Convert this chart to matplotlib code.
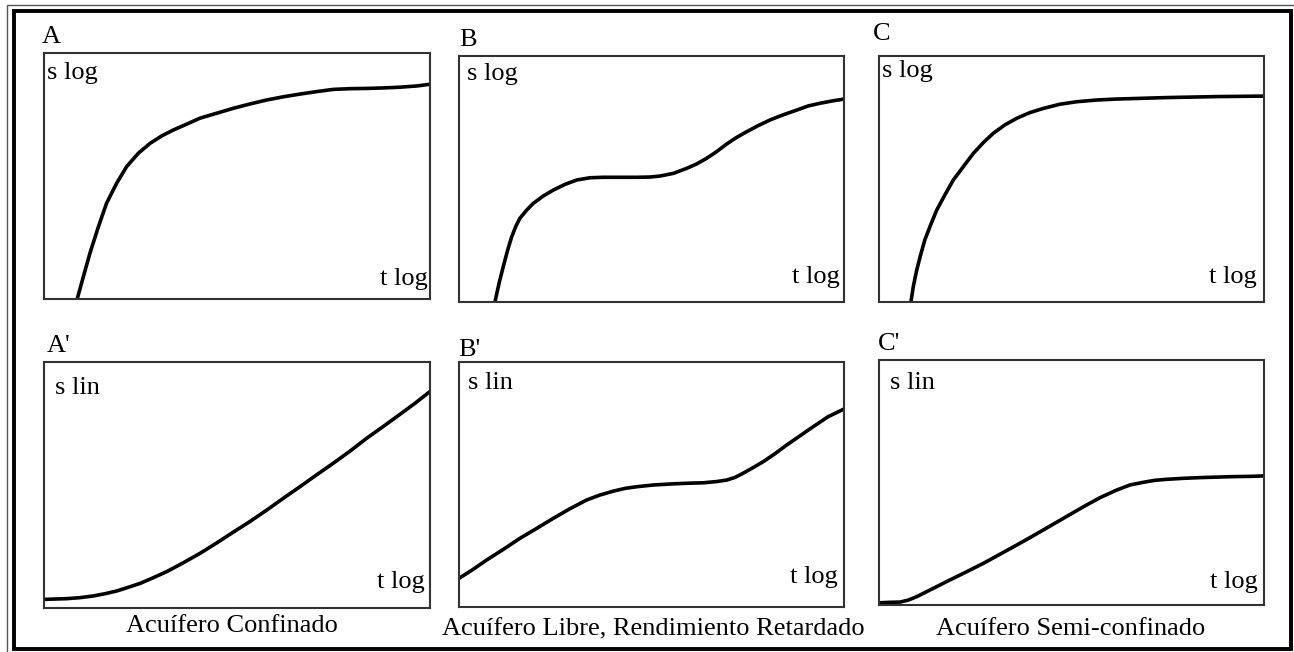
import numpy as np
import matplotlib
matplotlib.use("Agg")
import matplotlib.pyplot as plt
import matplotlib.patches as mpatches

plt.rcParams.update({"font.family": ["Liberation Serif", "DejaVu Serif"],
                     "font.size": 19})

# ── Curve data (panel units: x 0-100 = t, y 0-100 = s) ───────────────────────
A_t  = [8.6, 10.2, 11.9, 14.1, 16.2, 18.8, 21.4, 24.4, 27.5, 30.5, 33.5, 37.0, 40.4,
        44.7, 49.0, 53.4, 57.7, 62.0, 66.3, 70.6, 74.9, 79.3, 83.6, 87.9, 92.2, 96.6, 100]
A_s  = [0.0, 9.1, 18.6, 29.4, 38.9, 47.0, 53.8, 59.2, 63.3, 66.3, 68.7, 71.1, 73.5,
        75.5, 77.5, 79.3, 80.9, 82.2, 83.3, 84.3, 85.2, 85.5, 85.6, 85.8, 86.1, 86.6, 87.3]

B_t  = [9.35, 10.4, 11.5, 12.6, 13.7, 14.8, 15.8, 17.6, 19.3, 21.9, 24.5, 27.5, 30.6,
        34.0, 37.5, 41.8, 46.2, 49.6, 52.2, 55.7, 59.1, 61.7, 64.3, 66.9, 69.5, 72.1,
        74.7, 77.7, 80.8, 84.2, 87.7, 90.7, 93.8, 97.2, 100]
B_s  = [0.1, 7.6, 14.4, 20.9, 26.6, 30.9, 34.0, 37.4, 40.1, 43.1, 45.5, 47.8, 49.6,
        50.5, 50.7, 50.7, 50.7, 50.8, 51.2, 52.3, 54.3, 56.1, 58.4, 61.1, 64.2, 66.9,
        69.2, 71.7, 74.0, 76.1, 78.0, 79.7, 80.8, 81.8, 82.5]

C_t  = [8.3, 8.9, 9.8, 10.8, 11.9, 13.4, 15.0, 17.1, 19.3, 21.9, 24.5, 27.1, 29.7, 32.7,
        35.8, 39.2, 42.7, 47.0, 51.3, 56.5, 61.7, 68.2, 74.7, 81.2, 87.7, 93.8, 100]
C_s  = [0.1, 6.2, 13.0, 19.1, 25.2, 31.3, 37.4, 43.5, 49.6, 55.0, 60.4, 64.8, 68.6, 72.0,
        74.7, 77.0, 78.7, 80.4, 81.4, 82.1, 82.5, 82.8, 83.1, 83.3, 83.5, 83.6, 83.7]

A2_t = [0.0, 5.9, 9.3, 12.8, 15.8, 18.8, 21.8, 24.9, 28.3, 31.8, 36.1, 40.4, 44.7, 49.0,
        53.4, 57.7, 62.0, 66.3, 70.6, 74.9, 79.3, 83.6, 87.9, 92.2, 96.1, 100]
A2_s = [3.5, 3.8, 4.2, 4.9, 5.8, 6.9, 8.4, 10.0, 12.3, 14.8, 18.4, 22.2, 26.4, 30.8,
        35.2, 39.8, 44.6, 49.3, 54.1, 58.8, 63.8, 69.0, 73.8, 78.7, 83.2, 88.0]

B2_t = [0.0, 3.7, 7.2, 11.5, 15.8, 20.2, 24.5, 28.8, 33.2, 36.6, 40.1, 43.1, 46.2, 50.5,
        54.8, 59.1, 63.5, 66.9, 69.5, 71.7, 73.8, 76.4, 79.0, 82.1, 85.1, 88.6, 92.0, 95.9, 100]
B2_s = [11.7, 15.4, 19.2, 23.5, 28.0, 32.1, 36.2, 40.1, 43.7, 45.7, 47.3, 48.4, 49.1, 49.8,
        50.2, 50.5, 50.7, 51.2, 51.8, 52.9, 54.6, 56.9, 59.3, 62.6, 66.1, 69.9, 73.6, 77.7, 80.8]

C2_t = [0.0, 2.9, 5.5, 7.6, 9.8, 14.1, 18.4, 22.8, 27.1, 31.4, 35.8, 40.1, 44.4, 48.8,
        53.1, 57.4, 61.7, 65.2, 68.7, 71.7, 74.7, 79.0, 83.4, 87.7, 92.0, 96.4, 100]
C2_s = [0.9, 1.1, 1.2, 2.0, 3.4, 6.8, 10.2, 13.6, 17.0, 20.7, 24.5, 28.3, 32.2, 36.2,
        40.1, 43.8, 46.9, 49.0, 50.1, 50.9, 51.3, 51.7, 52.0, 52.2, 52.4, 52.5, 52.7]

LETTERS  = ["A", "B", "C", "A'", "B'", "C'"]
Y_LABELS = ["s log", "s log", "s log", "s lin", "s lin", "s lin"]
X_LABEL  = "t log"
CAPTIONS = ["Acuífero Confinado", "Acuífero Libre, Rendimiento Retardado",
            "Acuífero Semi-confinado"]

W, H = 1294, 652

# panel boxes in pixels: left, top, right, bottom
BOXES = [(44, 53, 430, 299), (459, 56, 844, 302), (879, 56, 1264, 302),
         (44, 362, 430, 608), (459, 362, 844, 607), (879, 360, 1264, 605)]
LETTER_POS = [(42, 43), (459, 46), (873, 40), (47, 352), (458, 356), (878, 350)]
SLAB_POS   = [(0.008, 0.963), (0.021, 0.972), (0.008, 0.984),
              (0.028, 0.939), (0.023, 0.959), (0.029, 0.951)]
TLAB_POS   = [(0.995, 0.057), (0.990, 0.077), (0.982, 0.077),
              (0.987, 0.081), (0.984, 0.098), (0.984, 0.069)]
CAPTION_POS = [(232, 632), (653, 635), (1071, 635)]

curves = [(A_t, A_s), (B_t, B_s), (C_t, C_s), (A2_t, A2_s), (B2_t, B2_s), (C2_t, C2_s)]

fig = plt.figure(figsize=(W / 100, H / 100), dpi=100)
fig.patch.set_facecolor("white")

# ── Double frame around the whole figure ─────────────────────────────────────
def px_rect(l, t, r, b, **kw):
    return mpatches.Rectangle((l / W, 1 - b / H), (r - l) / W, (b - t) / H,
                              transform=fig.transFigure, fill=False, **kw)

fig.patches.append(px_rect(7, 5, 1310, 670, lw=1.0, edgecolor="#555555"))
fig.patches.append(px_rect(13.5, 11, 1291, 649, lw=2.8, edgecolor="black"))

# ── Panels ───────────────────────────────────────────────────────────────────
for i, (l, t, r, b) in enumerate(BOXES):
    ax = fig.add_axes([l / W, 1 - b / H, (r - l) / W, (b - t) / H])
    x, y = curves[i]
    ax.plot(x, y, color="black", lw=2.6, solid_joinstyle="round",
            solid_capstyle="butt")
    ax.set_xlim(0, 100)
    ax.set_ylim(0, 100)
    ax.set_xticks([])
    ax.set_yticks([])
    for sp in ax.spines.values():
        sp.set_color("#333333")
        sp.set_linewidth(1.5)
    ax.text(*SLAB_POS[i], Y_LABELS[i], transform=ax.transAxes,
            ha="left", va="top")
    ax.text(*TLAB_POS[i], X_LABEL, transform=ax.transAxes,
            ha="right", va="baseline")
    lx, ly = LETTER_POS[i]
    fig.text(lx / W, 1 - ly / H, LETTERS[i], ha="left", va="baseline")

for (cx, cy), cap in zip(CAPTION_POS, CAPTIONS):
    fig.text(cx / W, 1 - cy / H, cap, ha="center", va="baseline")

plt.savefig("out.png", dpi=100)
plt.close()
